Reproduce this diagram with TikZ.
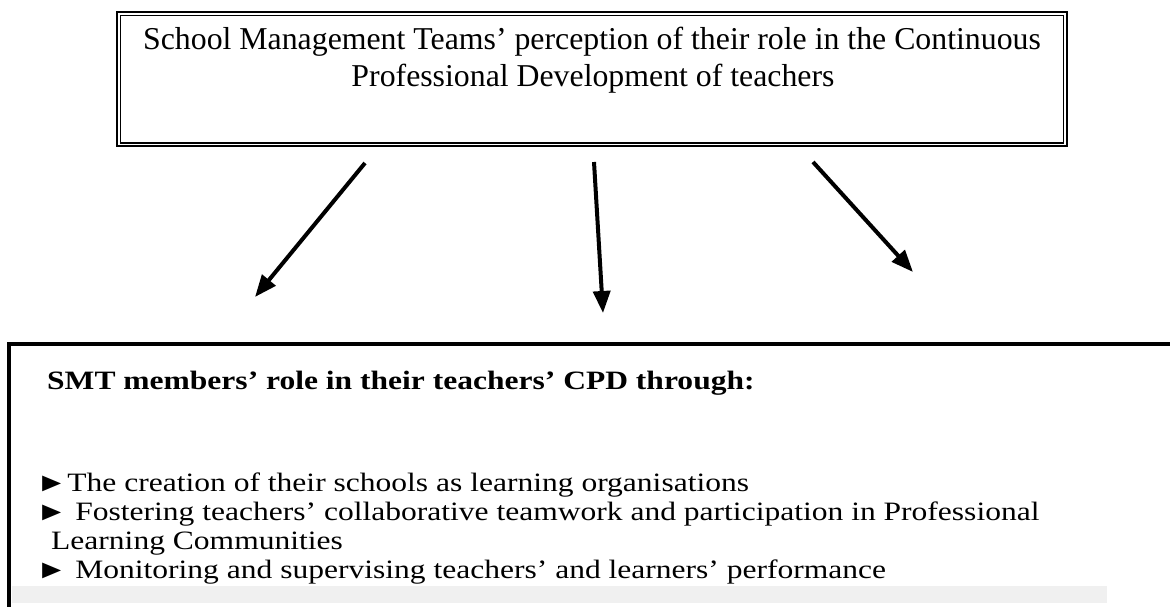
\documentclass[tikz,border=0pt]{standalone}
\usepackage{graphicx}
\usepackage{fontspec}
\setmainfont{Liberation Serif}
\usetikzlibrary{arrows.meta}
\newcommand{\widen}[1]{\scalebox{1.19}[1]{#1}}
\begin{document}
\begin{tikzpicture}[x=1pt,y=-1pt,
  toptext/.style={anchor=base, inner sep=0pt, font=\fontsize{31.8}{36.6}\selectfont},
  bodytext/.style={anchor=base west, inner sep=0pt, font=\fontsize{26.5}{29}\selectfont},
  bigarrow/.style={line width=4pt, -{Triangle[length=22pt,width=17pt]}},
  thickline/.style={line width=2.3pt},
  thinline/.style={line width=1.5pt},
  frame/.style={line width=4pt, line join=miter}]
\useasboundingbox (0,0) rectangle (1170,607);
% top double-lined box
\draw[thickline] (117,12.2) rectangle (1067,146.2);
\draw[thinline] (120.6,15.4) rectangle (1063.4,142.8);
\node[toptext] (t1) at (592,50) {School Management Teams’ perception of their role in the Continuous};
\node[toptext] (t2) at (593,86.6) {Professional Development of teachers};
% arrows
\coordinate (a1s) at (365,163);
\coordinate (a1e) at (255,297);
\coordinate (a2s) at (594,162);
\coordinate (a2e) at (603,313);
\coordinate (a3s) at (813,162);
\coordinate (a3e) at (913,272);
\draw[bigarrow] (a1s) -- (a1e);
\draw[bigarrow] (a2s) -- (a2e);
\draw[bigarrow] (a3s) -- (a3e);
% bottom box
\fill[black!6] (12,586) rectangle (1107,603);
\draw[frame] (9,615) -- (9,344) -- (1180,344);
\node[bodytext, font=\fontsize{26.5}{29}\selectfont\bfseries] (h) at (47,389) {\widen{SMT members’ role in their teachers’ CPD through:}};
\node[bodytext] (b1) at (36,491) {\widen{►The creation of their schools as learning organisations}};
\node[bodytext] (b2) at (36,520) {\widen{► Fostering teachers’ collaborative teamwork and participation in Professional}};
\node[bodytext] (b3) at (51,549) {\widen{Learning Communities}};
\node[bodytext] (b4) at (36,578) {\widen{► Monitoring and supervising teachers’ and learners’ performance}};
\end{tikzpicture}
\end{document}
